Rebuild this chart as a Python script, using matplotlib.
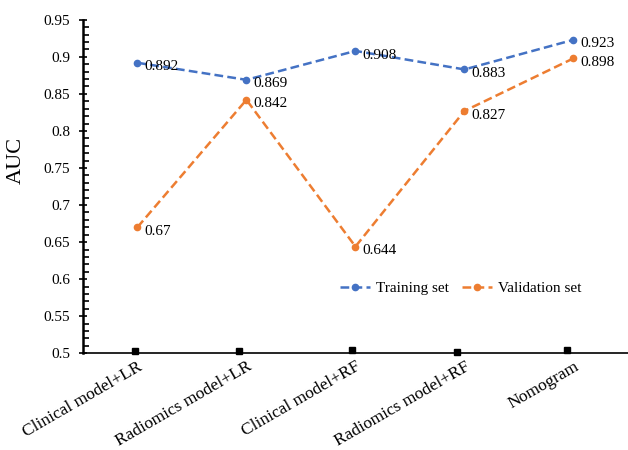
import matplotlib
matplotlib.use('Agg')
import matplotlib.pyplot as plt
import numpy as np
from matplotlib.ticker import MultipleLocator

plt.rcParams['font.family'] = ['Liberation Serif', 'DejaVu Serif']

models = ['Clinical model+LR', 'Radiomics model+LR', 'Clinical model+RF',
          'Radiomics model+RF', 'Nomogram']
training_auc = [0.892, 0.869, 0.908, 0.883, 0.923]
validation_auc = [0.67, 0.842, 0.644, 0.827, 0.898]
# small square markers sitting on the baseline
base_marks = [0.503, 0.503, 0.505, 0.502, 0.505]
base_shift = [-0.02, -0.07, -0.03, -0.07, -0.06]

blue = '#4472C4'
orange = '#ED7D31'

fig = plt.figure(figsize=(6.28, 4.5), dpi=100)
ax = fig.add_axes([0.132, 0.215, 0.868, 0.741])

x = np.arange(len(models))
ax.plot(x, training_auc, color=blue, linestyle='--', linewidth=1.8,
        marker='o', markersize=4.5, dashes=(3.5, 1.7), label='Training set')
ax.plot(x, validation_auc, color=orange, linestyle='--', linewidth=1.8,
        marker='o', markersize=4.5, dashes=(3.5, 1.7), label='Validation set')
ax.plot(x + np.array(base_shift), base_marks, linestyle='none', marker='s',
        markersize=4.5, color='black', clip_on=False)

for xi, v in zip(x, training_auc):
    ax.annotate(f'{v:g}', (xi, v), xytext=(5, -3), textcoords='offset points',
                ha='left', va='center', fontsize=11)
for xi, v in zip(x, validation_auc):
    ax.annotate(f'{v:g}', (xi, v), xytext=(5, -3), textcoords='offset points',
                ha='left', va='center', fontsize=11)

ax.set_xlim(-0.5, len(models) - 0.5)
ax.set_ylim(0.5, 0.95)
ax.yaxis.set_minor_locator(MultipleLocator(0.01))
yt = np.round(np.arange(0.5, 0.951, 0.05), 2)
ax.set_yticks(yt)
ax.set_yticklabels([f'{t:g}' for t in yt])
ax.tick_params(axis='y', which='major', direction='inout', length=6, width=1.2,
               labelsize=11, pad=6)
ax.tick_params(axis='y', which='minor', direction='in', length=4, width=1.2)
ax.set_xticks(x)
ax.set_xticklabels(models, rotation=30, ha='right', rotation_mode='anchor',
                   fontsize=12.5)
ax.tick_params(axis='x', length=0, pad=4)

ax.spines['top'].set_visible(False)
ax.spines['right'].set_visible(False)
ax.spines['left'].set_linewidth(1.8)
ax.spines['bottom'].set_linewidth(1.2)

ax.set_ylabel('AUC', fontsize=16)
ax.yaxis.set_label_coords(-0.105, 0.577)

ax.legend(loc='center right', bbox_to_anchor=(0.94, 0.195), ncol=2,
          frameon=False, fontsize=11, handlelength=2.0, columnspacing=0.8,
          handletextpad=0.4)

fig.savefig('out.png', dpi=100)
